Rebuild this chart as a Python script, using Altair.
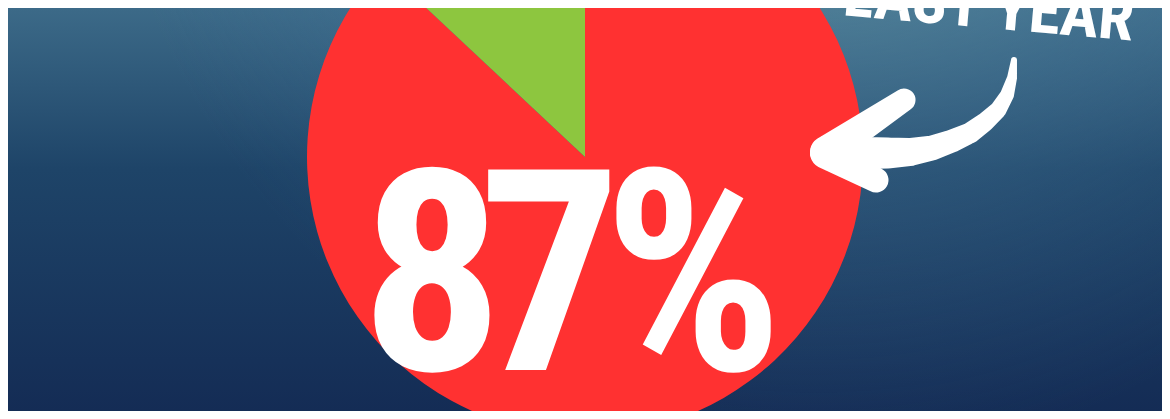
import altair as alt
import pandas as pd

# ---- data -------------------------------------------------------------
categories = ["Last year", "Rest"]
shares = [87, 13]
slice_colors = ["#FF3131", "#8DC63F"]
callout = ["LAST YEAR"]

# headline glyph layout (one text per glyph, condensed look)
glyph_x = [432, 550, 693]

# annotation arrow (hand-drawn swoosh), reference pixel coordinates
arrow_part = ["shaft"] * 13 + ["upper"] * 2 + ["lower"] * 2
arrow_x = [1014, 1012, 1007, 998, 985, 970, 952, 932, 910, 888, 866, 845, 830, 826, 904, 826, 876]
arrow_y = [60, 78, 95, 110, 122, 133, 141, 148, 152, 153, 153, 152, 151, 152, 100, 153, 180]
arrow_w = [6, 10, 14, 17, 19, 21, 23, 25, 28, 31, 32, 33, 33, 32, 23, 32, 25]

# ---- layout -----------------------------------------------------------
W, H = 1154, 403
FONT = "Roboto Condensed, Open Sans Condensed, Liberation Sans Narrow, DejaVu Sans Condensed, sans-serif"
xs = alt.Scale(domain=[8, 8 + W], nice=False, zero=False)
ys = alt.Scale(domain=[8 + H, 8], nice=False, zero=False)

one = pd.DataFrame({"k": [0]})

bg = alt.Chart(one).mark_rect(
    color=alt.LinearGradient(
        gradient="linear",
        stops=[
            alt.GradientStop(color="#3c6a88", offset=0),
            alt.GradientStop(color="#1e4468", offset=0.4),
            alt.GradientStop(color="#142c55", offset=1),
        ],
        x1=0, x2=0, y1=0, y2=1,
    )
).encode(x=alt.value(0), x2=alt.value(W), y=alt.value(0), y2=alt.value(H))

glow = alt.Chart(one).mark_rect(
    color=alt.RadialGradient(
        gradient="radial",
        stops=[
            alt.GradientStop(color="rgba(120,170,172,0.75)", offset=0),
            alt.GradientStop(color="rgba(80,130,160,0.35)", offset=0.55),
            alt.GradientStop(color="rgba(60,110,150,0)", offset=1),
        ],
        x1=0.7, y1=0.1, r1=0, x2=0.7, y2=0.1, r2=0.62,
    )
).encode(x=alt.value(0), x2=alt.value(W), y=alt.value(0), y2=alt.value(H))

pie_df = pd.DataFrame({"cat": categories, "share": shares, "idx": list(range(len(shares)))})
pie = alt.Chart(pie_df).mark_arc(radius=278, clip=True).encode(
    theta=alt.Theta("share:Q", stack=True),
    order=alt.Order("idx:Q"),
    color=alt.Color("cat:N", scale=alt.Scale(domain=categories, range=slice_colors), legend=None),
    x=alt.X(datum=585, type="quantitative", scale=xs, axis=None),
    y=alt.Y(datum=157, type="quantitative", scale=ys, axis=None),
)

headline = f"{shares[0]}%"
big_df = pd.DataFrame({"ch": list(headline), "gx": glyph_x})
big = alt.Chart(big_df).mark_text(
    font=FONT, fontSize=282, fontWeight="bold", color="white",
    align="center", baseline="alphabetic", clip=True,
).encode(
    x=alt.X("gx:Q", scale=xs, axis=None),
    y=alt.Y(datum=370, type="quantitative", scale=ys, axis=None),
    text="ch:N",
)

call_df = pd.DataFrame({"label": callout})
call = alt.Chart(call_df).mark_text(
    font=FONT, fontSize=64, fontWeight="bold", color="white",
    align="center", baseline="alphabetic", angle=5, clip=True,
).encode(
    x=alt.X(datum=987, type="quantitative", scale=xs, axis=None),
    y=alt.Y(datum=28, type="quantitative", scale=ys, axis=None),
    text="label:N",
)

arrow_df = pd.DataFrame({
    "part": arrow_part, "x": arrow_x, "y": arrow_y, "w": arrow_w,
    "i": list(range(len(arrow_x))),
})
arrow = alt.Chart(arrow_df).mark_trail(color="white", clip=True).encode(
    x=alt.X("x:Q", scale=xs, axis=None),
    y=alt.Y("y:Q", scale=ys, axis=None),
    size=alt.Size("w:Q", scale=None, legend=None),
    detail="part:N",
    order="i:Q",
)

chart = alt.layer(bg, glow, pie, big, call, arrow).properties(
    width=W, height=H,
    padding=0,
    autosize=alt.AutoSizeParams(type="none"),
    background="#1b3a62",
).configure_view(stroke=None)

chart.save("out.html", embed_options={"renderer": "svg", "actions": False})
